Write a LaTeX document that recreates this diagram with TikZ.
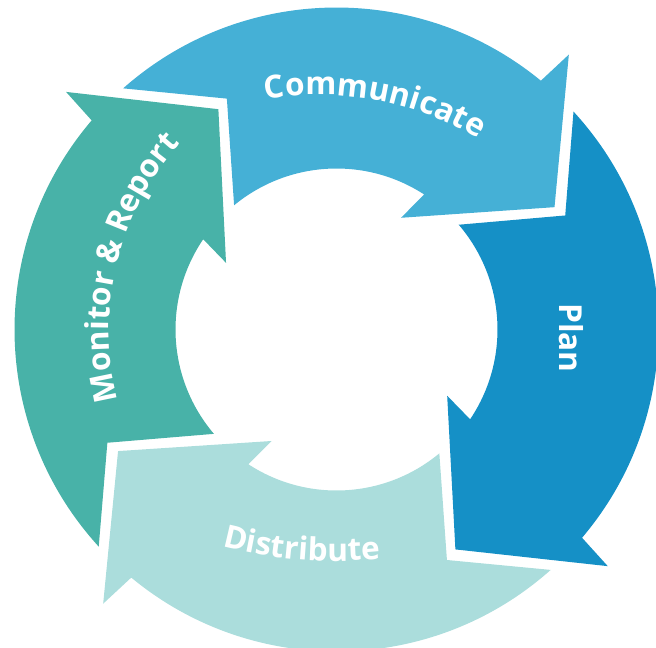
\documentclass[tikz,border=0pt]{standalone}
\usepackage{fontspec}
\setmainfont{Open Sans}
\usetikzlibrary{decorations.text}
\definecolor{commblue}{HTML}{45B0D6}
\definecolor{planblue}{HTML}{1590C6}
\definecolor{distcyan}{HTML}{ABDDDC}
\definecolor{monteal}{HTML}{48B2A8}
\newcommand{\ringfont}{\bfseries\fontsize{18}{18}\selectfont}

\begin{document}
\begin{tikzpicture}[x=0.02cm, y=0.02cm]
\tikzstyle{ringtext} = [decorate, decoration={text along path, text align=center, text color=white}]
\tikzstyle{ringlabel} = [text=white, inner sep=0pt, font=\ringfont]

\useasboundingbox (-336.5,-317.5) rectangle (319.5,329.5);

\foreach \p/\q/\c in {138.7/49.8/commblue, 49.8/-41.1/planblue, -41.1/-130.4/distcyan, 229.6/138.7/monteal}
  \fill[\c] ({\p-7.2}:322) arc[start angle={\p-7.2}, end angle={\q+0.8}, radius=322] -- (\q:360) -- ({\q-20.5}:250) -- ({\q+10.2}:129) -- ({\q+7.2}:161) arc[start angle={\q+7.2}, end angle={\p-9.2}, radius=161] -- ({\p-23.3}:255.6) -- cycle;

\path[ringtext, decoration={text={|\ringfont|Communicate}}] (-16.5,-71.5) ++(109.5:306) arc[start angle=109.5, end angle=49.5, radius=306];
\path[ringtext, decoration={text={|\ringfont|Monitor {\&} Report}}] (49.5,0) ++(201.3:277) arc[start angle=201.3, end angle=131.3, radius=277];
\path[ringtext, decoration={text={|\ringfont|Distribute}}] (-1.5,215.5) ++(250.6:447) arc[start angle=250.6, end angle=280.6, radius=447];
\node (plan) [ringlabel, rotate=-90] at (234.6,-8.5) {Plan};

\end{tikzpicture}
\end{document}
